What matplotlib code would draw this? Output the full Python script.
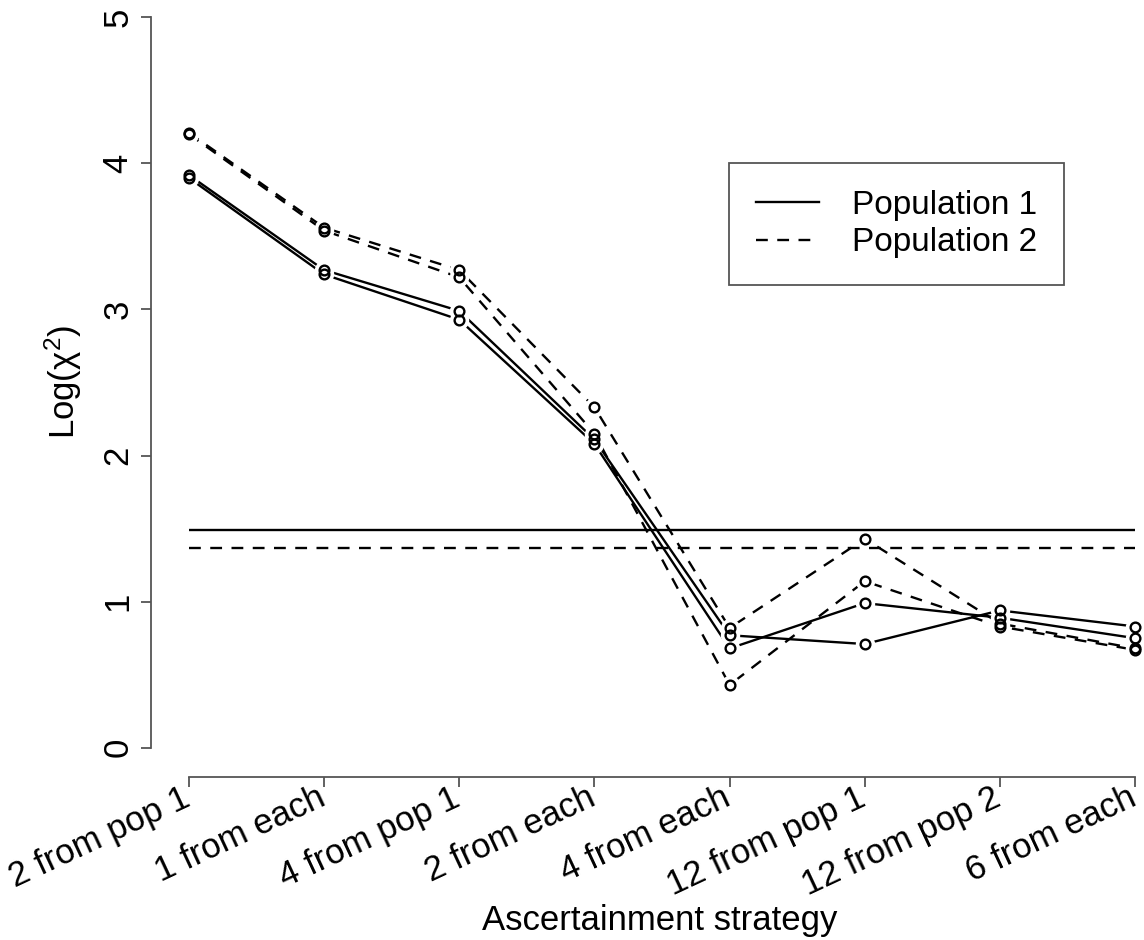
import matplotlib
matplotlib.use("Agg")
import matplotlib.pyplot as plt
from matplotlib.lines import Line2D
from matplotlib.transforms import ScaledTranslation
import numpy as np

# -----------------------------
# Data
# -----------------------------

categories = ["2 from pop 1", "1 from each", "4 from pop 1", "2 from each",
              "4 from each", "12 from pop 1", "12 from pop 2", "6 from each"]

pop1_a = [3.92, 3.27, 2.99, 2.11, 0.77, 0.71, 0.94, 0.83]
pop1_b = [3.90, 3.24, 2.93, 2.08, 0.68, 0.99, 0.89, 0.75]
pop2_a = [4.21, 3.56, 3.27, 2.33, 0.82, 1.43, 0.85, 0.68]
pop2_b = [4.20, 3.54, 3.22, 2.15, 0.43, 1.14, 0.83, 0.67]

threshold_pop1 = 1.49
threshold_pop2 = 1.37

legend_labels = ["Population 1", "Population 2"]

# -----------------------------
# Style
# -----------------------------

plt.rcParams.update({
    "font.family": ["Liberation Sans", "DejaVu Sans"],
    "font.size": 25,
    "mathtext.fontset": "custom",
    "mathtext.rm": "Liberation Sans",
    "mathtext.it": "Liberation Sans",
})

W, H = 1144, 940
fig = plt.figure(figsize=(W / 100, H / 100), dpi=100)

# plot region in pixels (R-style 4% padding, partly off the canvas)
left_px, right_px = 151, 1173
bottom_px, top_px = 777, -12
ax = fig.add_axes([left_px / W, 1 - bottom_px / H,
                   (right_px - left_px) / W, (bottom_px - top_px) / H])
ax.patch.set_visible(False)

x = np.arange(1, len(categories) + 1)
dash = (0, (5, 4))
lw = 1.7

series = [(pop1_a, "-"), (pop1_b, "-"), (pop2_a, dash), (pop2_b, dash)]

for vals, ls in series:
    ax.plot(x, vals, color="black", linestyle=ls, linewidth=lw, zorder=2)

# white discs to leave gaps around points (R type="b")
for vals, ls in series:
    ax.plot(x, vals, linestyle="none", marker="o", markersize=14,
            markerfacecolor="white", markeredgecolor="none", zorder=3)

ax.hlines(threshold_pop1, x[0], x[-1], colors="black", linestyles="-",
          linewidth=lw, zorder=4)
ax.hlines(threshold_pop2, x[0], x[-1], colors="black", linestyles=dash,
          linewidth=lw, zorder=4)

for vals, ls in series:
    ax.plot(x, vals, linestyle="none", marker="o", markersize=7,
            markerfacecolor="none", markeredgecolor="black",
            markeredgewidth=1.7, zorder=5)

ax.set_xlim(0.72, 8.28)
ax.set_ylim(-0.2, 5.2)

# -----------------------------
# Axes (R look)
# -----------------------------

for side in ["top", "right"]:
    ax.spines[side].set_visible(False)
for side in ["left", "bottom"]:
    ax.spines[side].set_color("#555555")
    ax.spines[side].set_linewidth(1.3)
ax.spines["left"].set_bounds(0, 5)
ax.spines["bottom"].set_bounds(1, 8)

ax.set_yticks([0, 1, 2, 3, 4, 5])
ax.set_yticklabels(["0", "1", "2", "3", "4", "5"], rotation=90, va="center")
ax.set_xticks(x)
ax.set_xticklabels(categories, rotation=25, ha="right", va="top",
                   rotation_mode="anchor")
ax.tick_params(axis="both", direction="out", length=7, width=1.3,
               color="#555555", labelsize=25)
ax.tick_params(axis="y", pad=5)
ax.tick_params(axis="x", pad=-4)

# nudge rotated labels left so they end at the tick
shift = ScaledTranslation(-8 / 100, 0, fig.dpi_scale_trans)
for lbl in ax.get_xticklabels():
    lbl.set_transform(lbl.get_transform() + shift)

fig.text(660 / W, 1 - 930 / H, "Ascertainment strategy", ha="center",
         va="baseline", fontsize=25)
fig.text(63 / W, 1 - 382 / H, "Log(χ$^{2}$)", ha="center", va="center",
         rotation=90, fontsize=25)

# -----------------------------
# Legend
# -----------------------------

handles = [Line2D([], [], color="black", linestyle="-", linewidth=lw),
           Line2D([], [], color="black", linestyle=dash, linewidth=lw)]
leg = ax.legend(handles, legend_labels, loc="upper left",
                bbox_to_anchor=(729 / W, 1 - 163 / H),
                bbox_transform=fig.transFigure, borderaxespad=0,
                fancybox=False, framealpha=1, edgecolor="#555555",
                handlelength=1.9, handletextpad=1.0, borderpad=0.8,
                labelspacing=0.2, fontsize=24)
leg.get_frame().set_linewidth(1.3)

fig.savefig("out.png", dpi=100)
plt.close(fig)
